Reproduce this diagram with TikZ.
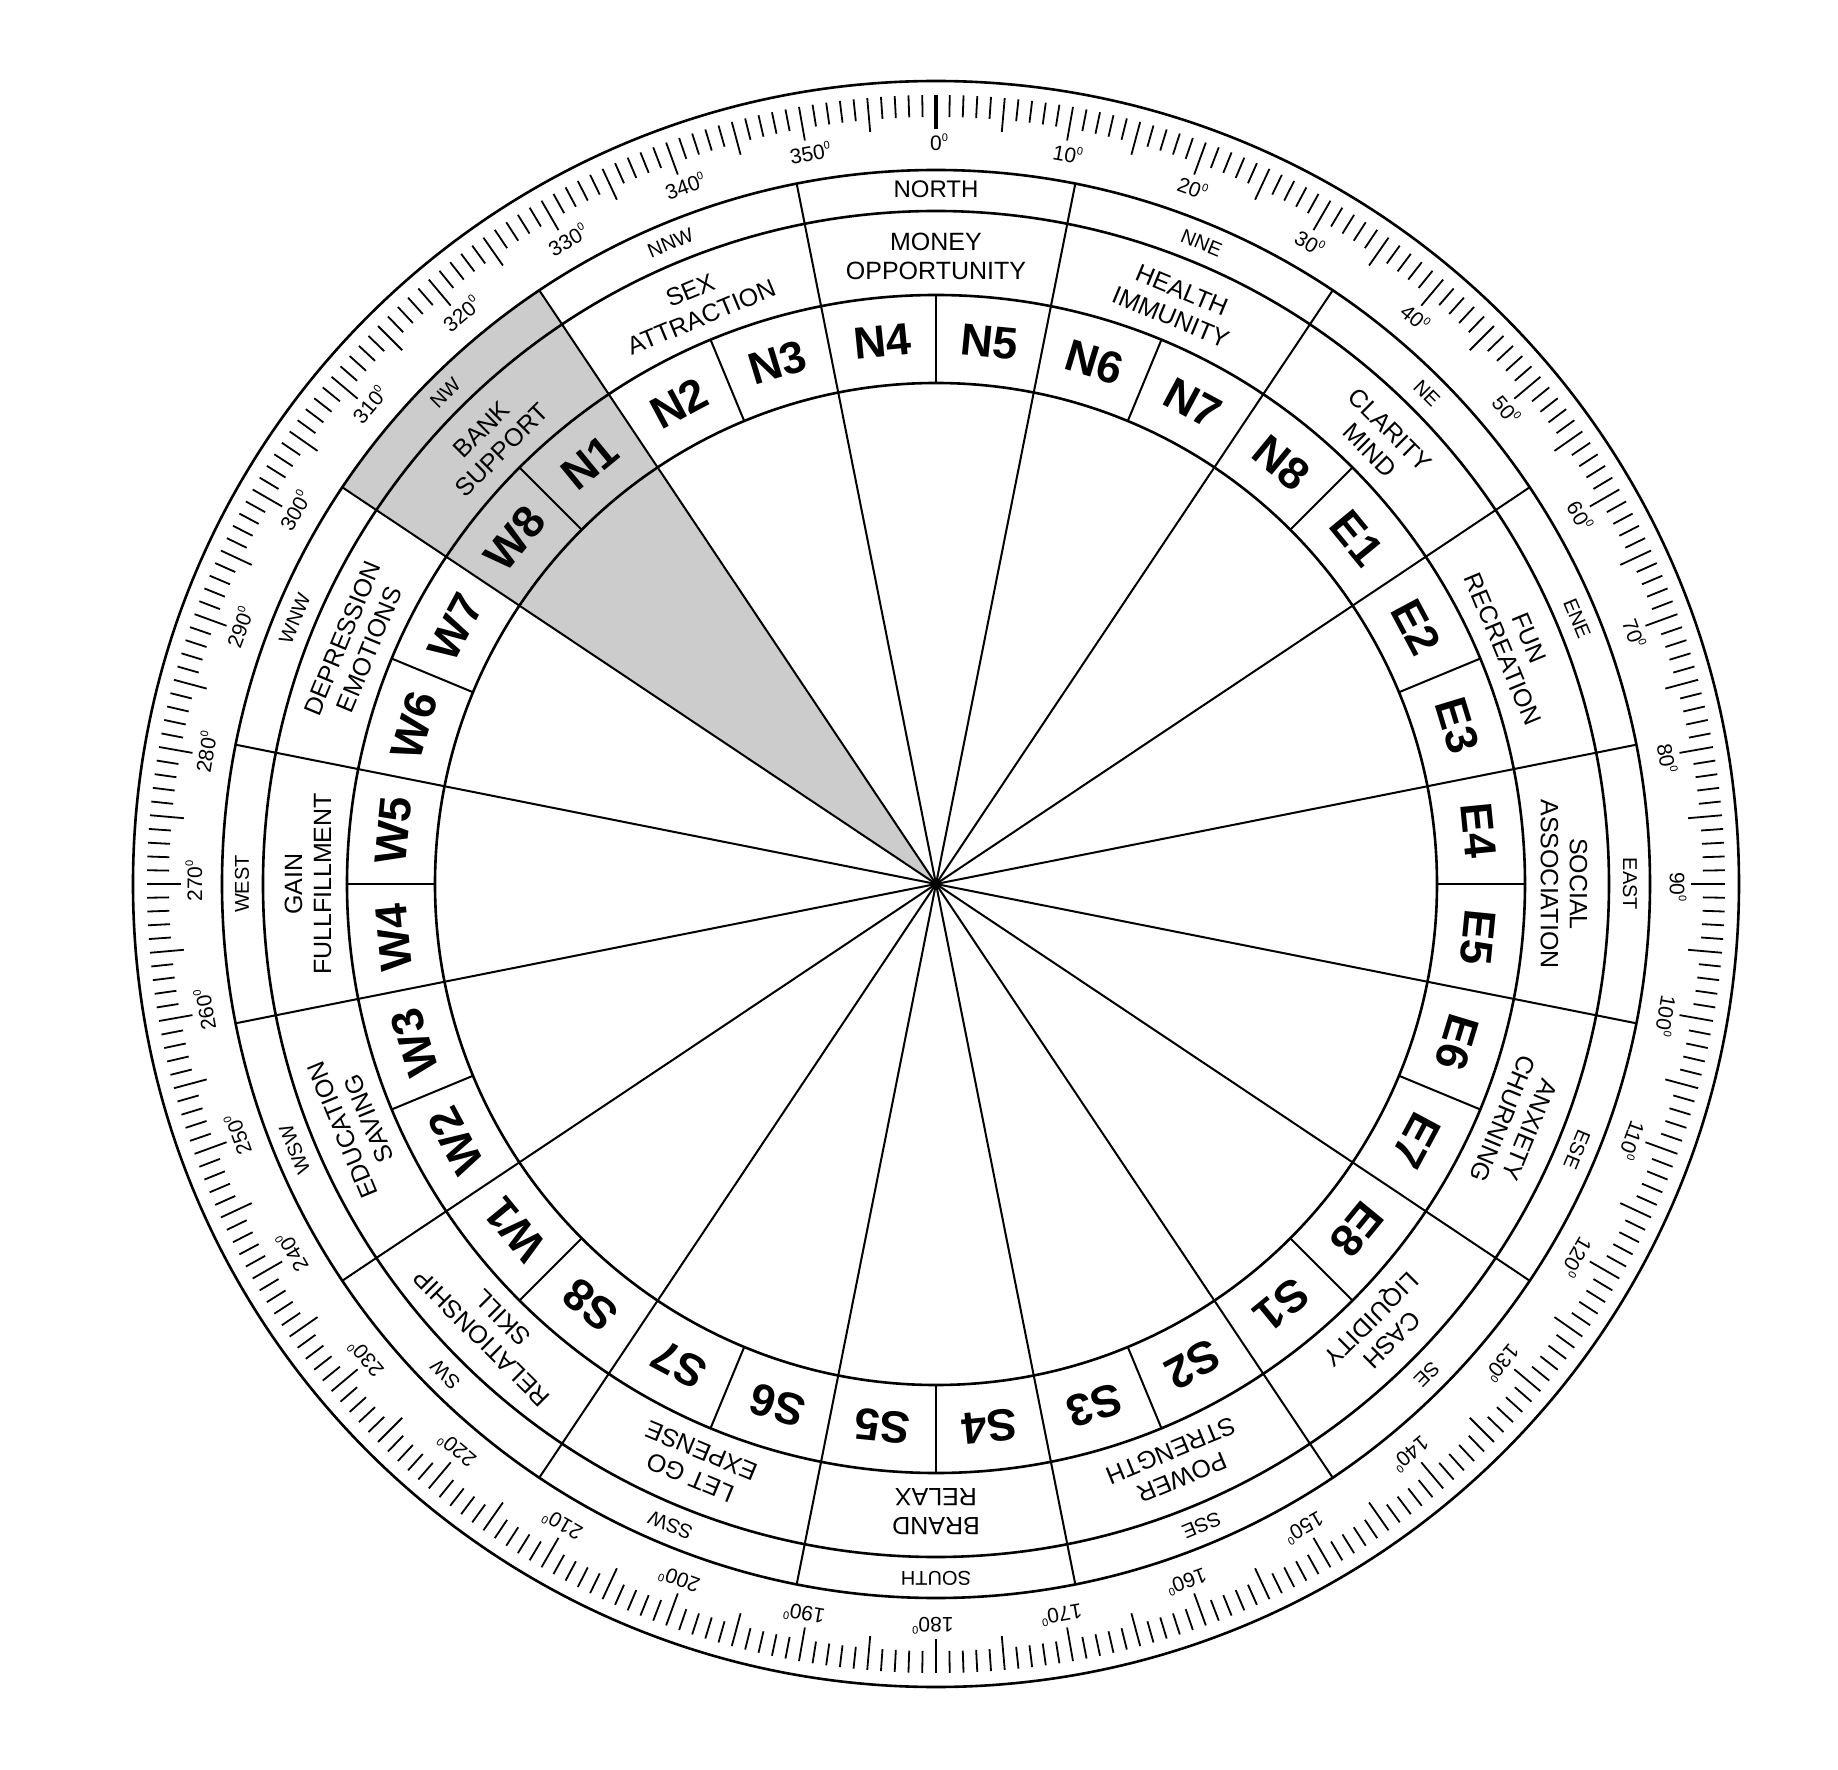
\documentclass[tikz,border=0pt]{standalone}
\usepackage{fontspec}
\setmainfont{Liberation Sans}
\begin{document}
\begin{tikzpicture}[x=1pt,y=1pt,
  ring/.style={line width=2.6pt},
  spoke/.style={line width=2pt},
  tickmark/.style={line width=1.8pt},
  padlbl/.style={font=\fontsize{45}{45}\selectfont\bfseries, inner sep=0pt},
  zonelbl/.style={font=\fontsize{25}{29}\selectfont, align=center, inner sep=0pt},
  dirlbl/.style={font=\fontsize{20}{20}\selectfont, inner sep=0pt},
  deglbl/.style={font=\fontsize{21}{21}\selectfont, inner sep=0pt}]
\useasboundingbox (-936,-885) rectangle (902,884);
\fill[white] (-936,-885) rectangle (902,884);
% shaded NW sector
\fill[gray!40] (0,0) -- (-213.75:714) arc[start angle=-213.75, end angle=-236.25, radius=714] -- cycle;
% circles
\foreach \r in {803,714,673,589,501}
  \draw[ring] (0,0) circle[radius=\r];
% zone boundaries
\foreach \k in {0,...,15}
  \draw[spoke] (0,0) -- ({90-11.25-22.5*\k}:714);
% pad dividers
\foreach \k in {0,...,15}
  \draw[spoke] ({90-22.5*\k}:501) -- ({90-22.5*\k}:589);
% degree ticks
\foreach \i in {1,...,359}{
  \pgfmathsetmacro\len{ifthenelse(mod(\i,5)==0,34,22)}
  \draw[tickmark] ({90-\i}:789) -- ({90-\i}:{789-\len});
}
\draw[line width=4.5pt] (90:789) -- (90:755);
% degree labels
\foreach \d in {0,10,...,350}
  \node[deglbl, rotate=-\d] (deg\d) at ({90-\d}:742)
    {\d\rlap{\raisebox{9pt}{\fontsize{11}{11}\selectfont 0}}};
% direction labels
\node[dirlbl, font=\fontsize{24}{24}\selectfont] (dir0) at (90:695) {NORTH};
\foreach \t [count=\j from 1] in {NNE,NE,ENE,EAST,ESE,SE,SSE,SOUTH,SSW,SW,WSW,WEST,WNW,NW,NNW}
  \node[dirlbl, rotate=-22.5*\j] (dir\j) at ({90-22.5*\j}:694) {\t};
% zone labels
\foreach \a/\b [count=\j from 0] in {MONEY/OPPORTUNITY,HEALTH/IMMUNITY,CLARITY/MIND,FUN/RECREATION,SOCIAL/ASSOCIATION,ANXIETY/CHURNING,CASH/LIQUIDITY,POWER/STRENGTH,BRAND/RELAX,LET GO/EXPENSE,RELATIONSHIP/SKILL,EDUCATION/SAVING,GAIN/FULLFILLMENT,DEPRESSION/EMOTIONS,BANK/SUPPORT,SEX/ATTRACTION}
  \node[zonelbl, rotate=-22.5*\j] (zone\j) at ({90-22.5*\j}:628) {\a\\\b};
% pad labels
\foreach \p [count=\k from 0] in {N5,N6,N7,N8,E1,E2,E3,E4,E5,E6,E7,E8,S1,S2,S3,S4,S5,S6,S7,S8,W1,W2,W3,W4,W5,W6,W7,W8,N1,N2,N3,N4}
  \node[padlbl, rotate={-(11.25*\k+5.625)}] (pad\k) at ({90-11.25*\k-5.625}:545) {\p};
\end{tikzpicture}
\end{document}
